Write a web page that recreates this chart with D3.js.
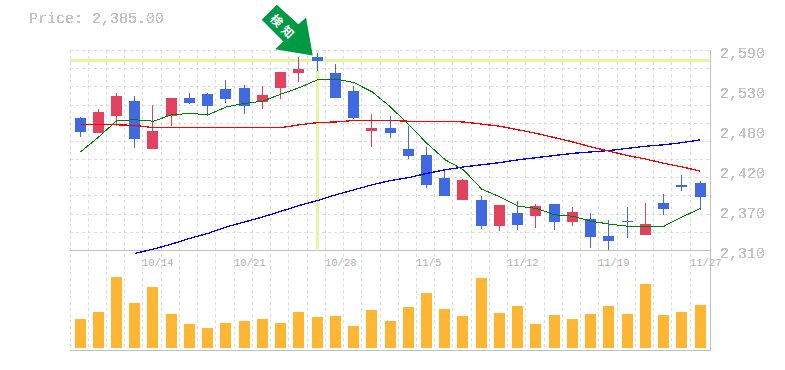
<!DOCTYPE html>
<html><head><meta charset="utf-8">
<style>html,body{margin:0;padding:0;background:#fff}svg{display:block}text{font-family:"Liberation Mono",monospace;fill:#c4c4c4}</style>
<script src="https://cdnjs.cloudflare.com/ajax/libs/d3/7.8.5/d3.min.js"></script>
</head><body><svg id="c" width="785" height="370"><defs><filter id="alias" x="-5%" y="-20%" width="110%" height="140%"><feComponentTransfer><feFuncA type="discrete" tableValues="0 0 1 1 1"/></feComponentTransfer></filter></defs></svg>
<script>
const dates=["10/8","10/9","10/10","10/11","10/14","10/15","10/16","10/17","10/18","10/21","10/22","10/23","10/24","10/25","10/28","10/29","10/30","10/31","11/1","11/5","11/6","11/7","11/8","11/11","11/12","11/13","11/14","11/15","11/18","11/19","11/20","11/21","11/22","11/26","11/27"];
const opens=[2496,2475,2498,2519,2452,2498,2524,2529,2536,2538,2518,2538,2559,2581,2559,2533,2477,2482,2452,2444,2412,2381,2381,2344,2363,2358,2375,2350,2354,2330,2351,2332,2377,2402,2405];
const highs=[2497,2508,2531,2526,2514,2524,2531,2531,2549,2542,2540,2560,2581,2586,2571,2540,2501,2498,2484,2455,2421,2410,2386,2374,2379,2375,2375,2371,2363,2353,2371,2377,2389,2416,2407];
const lows=[2469,2475,2484,2454,2452,2484,2515,2498,2517,2501,2508,2522,2546,2561,2524,2494,2455,2468,2438,2398,2386,2381,2340,2337,2339,2342,2339,2344,2314,2311,2328,2332,2360,2393,2367];
const closes=[2476,2504,2526,2466,2477,2524,2517,2512,2522,2512,2528,2560,2564,2575,2524,2496,2482,2475,2442,2402,2386,2409,2344,2374,2346,2372,2350,2364,2329,2323,2350,2347,2368,2399,2385];
const vols=[29,36,71,45,61,34,24,20,25,27,29,25,36,31,32,22,38,27,41,55,39,32,70,35,42,24,33,29,34,42,34,64,33,36,43];
const ma5=[2448,2469,2492,2493,2491,2500,2502,2500,2511,2516,2519,2529,2538,2549,2550,2545,2532,2511,2486,2460,2437,2423,2396,2385,2372,2369,2360,2358,2351,2347,2344,2344,2344,2357,2369];
const ma25=[2486,2486,2486,2485,2482,2482,2482,2482,2482,2482,2482,2482,2486,2489,2490,2492,2492,2492,2491,2491,2491,2490,2487,2484,2479,2474,2468,2462,2455,2449,2443,2438,2432,2427,2421];
const ma75=[null,null,null,2306,2312,2319,2327,2334,2343,2350,2357,2365,2373,2380,2388,2395,2402,2408,2412,2418,2423,2427,2430,2433,2437,2440,2443,2446,2448,2450,2453,2456,2458,2461,2465];
const priceTicks=[2590,2534,2478,2422,2366,2310];
const dateLabels=["10/14","10/21","10/28","11/5","11/12","11/19","11/27"];
const priceTitle="Price: 2,385.00";
const signalDate="10/25", signalPrice=2576, signalText="検知";

const svg=d3.select("#c");
const x=d3.scalePoint().domain(dates).range([80.5,700.5]);
const y=d3.scaleLinear().domain([2310,2590]).range([250.5,50.5]);
const yV=d3.scaleLinear().domain([0,98]).range([348,250]);
const left=d=>Math.floor(x(d)-5.5);
const gridX=d=>left(d)-5+.5;
const px=v=>Math.round(y(v));

// grid
const grid=svg.append("g").attr("stroke","#dcdcdc").attr("stroke-dasharray","3,3").attr("shape-rendering","crispEdges");
grid.selectAll(".v").data(dates).join("line").attr("x1",gridX).attr("x2",gridX).attr("y1",50).attr("y2",350);
grid.selectAll(".h").data(d3.range(0,12)).join("line")
 .attr("x1",70).attr("x2",710)
 .attr("y1",i=>Math.floor(y(2590-i*280/11))+.5).attr("y2",i=>Math.floor(y(2590-i*280/11))+.5);

// signal cross
const hl="#e4f5a6";
svg.append("rect").attr("x",x(signalDate)-1.5).attr("width",3).attr("y",51).attr("height",198).attr("fill",hl);
svg.append("rect").attr("x",70).attr("width",640).attr("y",y(signalPrice)-1.5).attr("height",3).attr("fill",hl);

// frame
const fr=svg.append("g").attr("stroke","#c0c0c0").attr("shape-rendering","crispEdges");
[[70,250.5,710,250.5],[70,350.5,711,350.5],[710.5,50,710.5,351]].forEach(l=>fr.append("line").attr("x1",l[0]).attr("y1",l[1]).attr("x2",l[2]).attr("y2",l[3]));

// volume
svg.append("g").selectAll("rect").data(dates).join("rect").attr("x",left).attr("width",11)
 .attr("y",(d,i)=>yV(vols[i])).attr("height",(d,i)=>yV(0)-yV(vols[i])).attr("fill","#ffb733");

// candles
const cs=svg.append("g").attr("shape-rendering","crispEdges");
const col=i=>closes[i]>=opens[i]?"#e24160":"#4169e1";
cs.selectAll("line").data(dates).join("line").attr("x1",d=>left(d)+5.5).attr("x2",d=>left(d)+5.5)
 .attr("y1",(d,i)=>px(highs[i])).attr("y2",(d,i)=>px(lows[i])).attr("stroke",(d,i)=>col(i));
cs.selectAll("rect").data(dates).join("rect").attr("x",left).attr("width",11)
 .attr("y",(d,i)=>px(Math.max(opens[i],closes[i])))
 .attr("height",(d,i)=>Math.max(1,px(Math.min(opens[i],closes[i]))-px(Math.max(opens[i],closes[i]))))
 .attr("fill",(d,i)=>col(i));

// moving averages
const line=a=>d3.line().defined(d=>a[dates.indexOf(d)]!=null).x(d=>x(d)).y(d=>y(a[dates.indexOf(d)]))(dates);
[[ma75,"#0000ff",1.3],[ma25,"#ff0000",1.3],[ma5,"#008000",1]].forEach(([a,c,w])=>
 svg.append("path").attr("d",line(a)).attr("fill","none").attr("stroke",c).attr("stroke-width",w).attr("shape-rendering","crispEdges"));

// axes text
const ax=d3.axisRight(y).tickValues(priceTicks).tickSize(0).tickPadding(0).tickFormat(v=>d3.format(",")(Math.round(v/10)*10));
const gA=svg.append("g").attr("transform","translate(720,2.5)").call(ax);
gA.select(".domain").remove();
gA.selectAll("text").attr("font-size",15).attr("font-family","Liberation Mono").attr("fill","#c4c4c4").attr("filter","url(#alias)");
svg.append("g").selectAll("text").data(dateLabels).join("text").attr("x",d=>gridX(d)-.5).attr("y",266).attr("font-size",10.5).style("fill","#b0b0b0").text(d=>d);
svg.append("text").attr("x",29).attr("y",23).attr("font-size",15).attr("filter","url(#alias)").text(priceTitle);

// signal arrow, anchored at the signal candle
const ax0=x(signalDate)-4.8, ay0=y(2586)+2.2;
const arrow=svg.append("g").attr("transform",`translate(${ax0},${ay0})`);
arrow.append("polygon").attr("fill","#009944").attr("points","0,0 -37.7,-6.4 -29.4,-14 -51,-35.7 -36,-50.7 -14.4,-31.4 -6.7,-38");
arrow.append("text").attr("transform","translate(-29,-28) rotate(45)").attr("text-anchor","middle").attr("y",4.5)
 .attr("font-size",12).attr("font-weight","bold").attr("letter-spacing",4).style("fill","#fff").style("font-family","Noto Sans CJK JP").text(signalText);
</script></body></html>
